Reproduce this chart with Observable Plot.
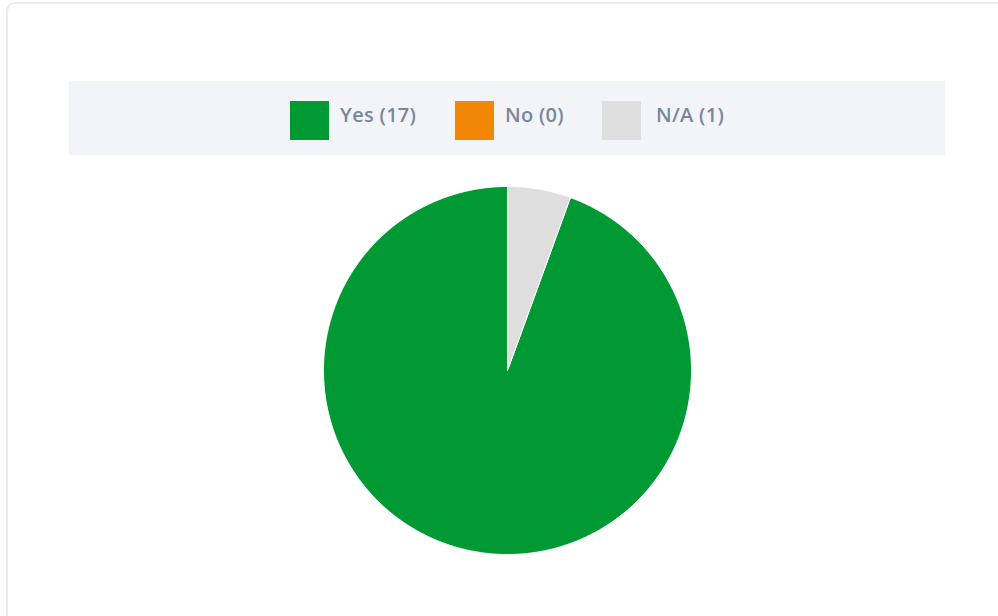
<!DOCTYPE html>
<html>
<head>
<meta charset="utf-8">
<script src="https://cdn.jsdelivr.net/npm/d3@7"></script>
<script src="https://cdn.jsdelivr.net/npm/@observablehq/plot@0.6"></script>
<style>
  html, body { margin: 0; padding: 0; background: #fff; width: 998px; height: 616px; overflow: hidden; }
  #card { position: absolute; left: 6px; top: 2px; width: 1100px; height: 700px; border: 2px solid #ececec; border-radius: 9px; box-sizing: border-box; background: #fff; }
  #legend { position: absolute; left: 69px; top: 81px; width: 876px; height: 74px; background: #f3f4f8; font-family: "Open Sans", sans-serif; font-weight: 600; font-size: 20px; color: #7b869b; letter-spacing: 0.3px; }
  .item { position: absolute; top: 20px; height: 40px; }
  .sw { position: absolute; left: 0; top: 0; width: 39px; height: 39px; }
  .lab { position: absolute; left: 50px; top: 3.5px; white-space: nowrap; line-height: 20px; }
  .item:last-child .lab { left: 54px; }
  #chart { position: absolute; left: 307px; top: 170px; }
</style>
</head>
<body>
<div id="card"></div>
<div id="legend"></div>
<div id="chart"></div>
<script>
const labels = ["Yes", "No", "N/A"];
const counts = [17, 0, 1];
const colors = ["#019934", "#f28705", "#dedede"];
const legendX = [221, 386, 533];

// Legend
const legend = document.getElementById("legend");
labels.forEach((l, i) => {
  const it = document.createElement("div");
  it.className = "item";
  it.style.left = legendX[i] + "px";
  const sw = document.createElement("div");
  sw.className = "sw";
  sw.style.background = colors[i];
  const lab = document.createElement("div");
  lab.className = "lab";
  lab.textContent = `${l} (${counts[i]})`;
  it.appendChild(sw); it.appendChild(lab);
  legend.appendChild(it);
});

// Pie geometry from data (counter-clockwise from 12 o'clock)
const arcs = d3.pie().sort(null).startAngle(0).endAngle(-2 * Math.PI)(counts);
const pts = [];
arcs.forEach((a, i) => {
  if (a.value === 0) return;
  const n = Math.max(2, Math.ceil(Math.abs(a.endAngle - a.startAngle) / 0.005));
  pts.push({label: labels[i], x: 0, y: 0});
  for (let k = 0; k <= n; k++) {
    const t = a.startAngle + (a.endAngle - a.startAngle) * k / n;
    pts.push({label: labels[i], x: Math.sin(t), y: Math.cos(t)});
  }
  pts.push({label: labels[i], x: 0, y: 0});
});

const plot = Plot.plot({
  width: 400,
  height: 400,
  margin: 16,
  x: {domain: [-1, 1], axis: null},
  y: {domain: [-1, 1], axis: null},
  color: {domain: labels, range: colors},
  marks: [
    Plot.line(pts, {x: "x", y: "y", z: "label", fill: "label", stroke: "#ffffff", strokeWidth: 1, curve: "linear-closed"})
  ]
});
document.getElementById("chart").appendChild(plot);
</script>
</body>
</html>
